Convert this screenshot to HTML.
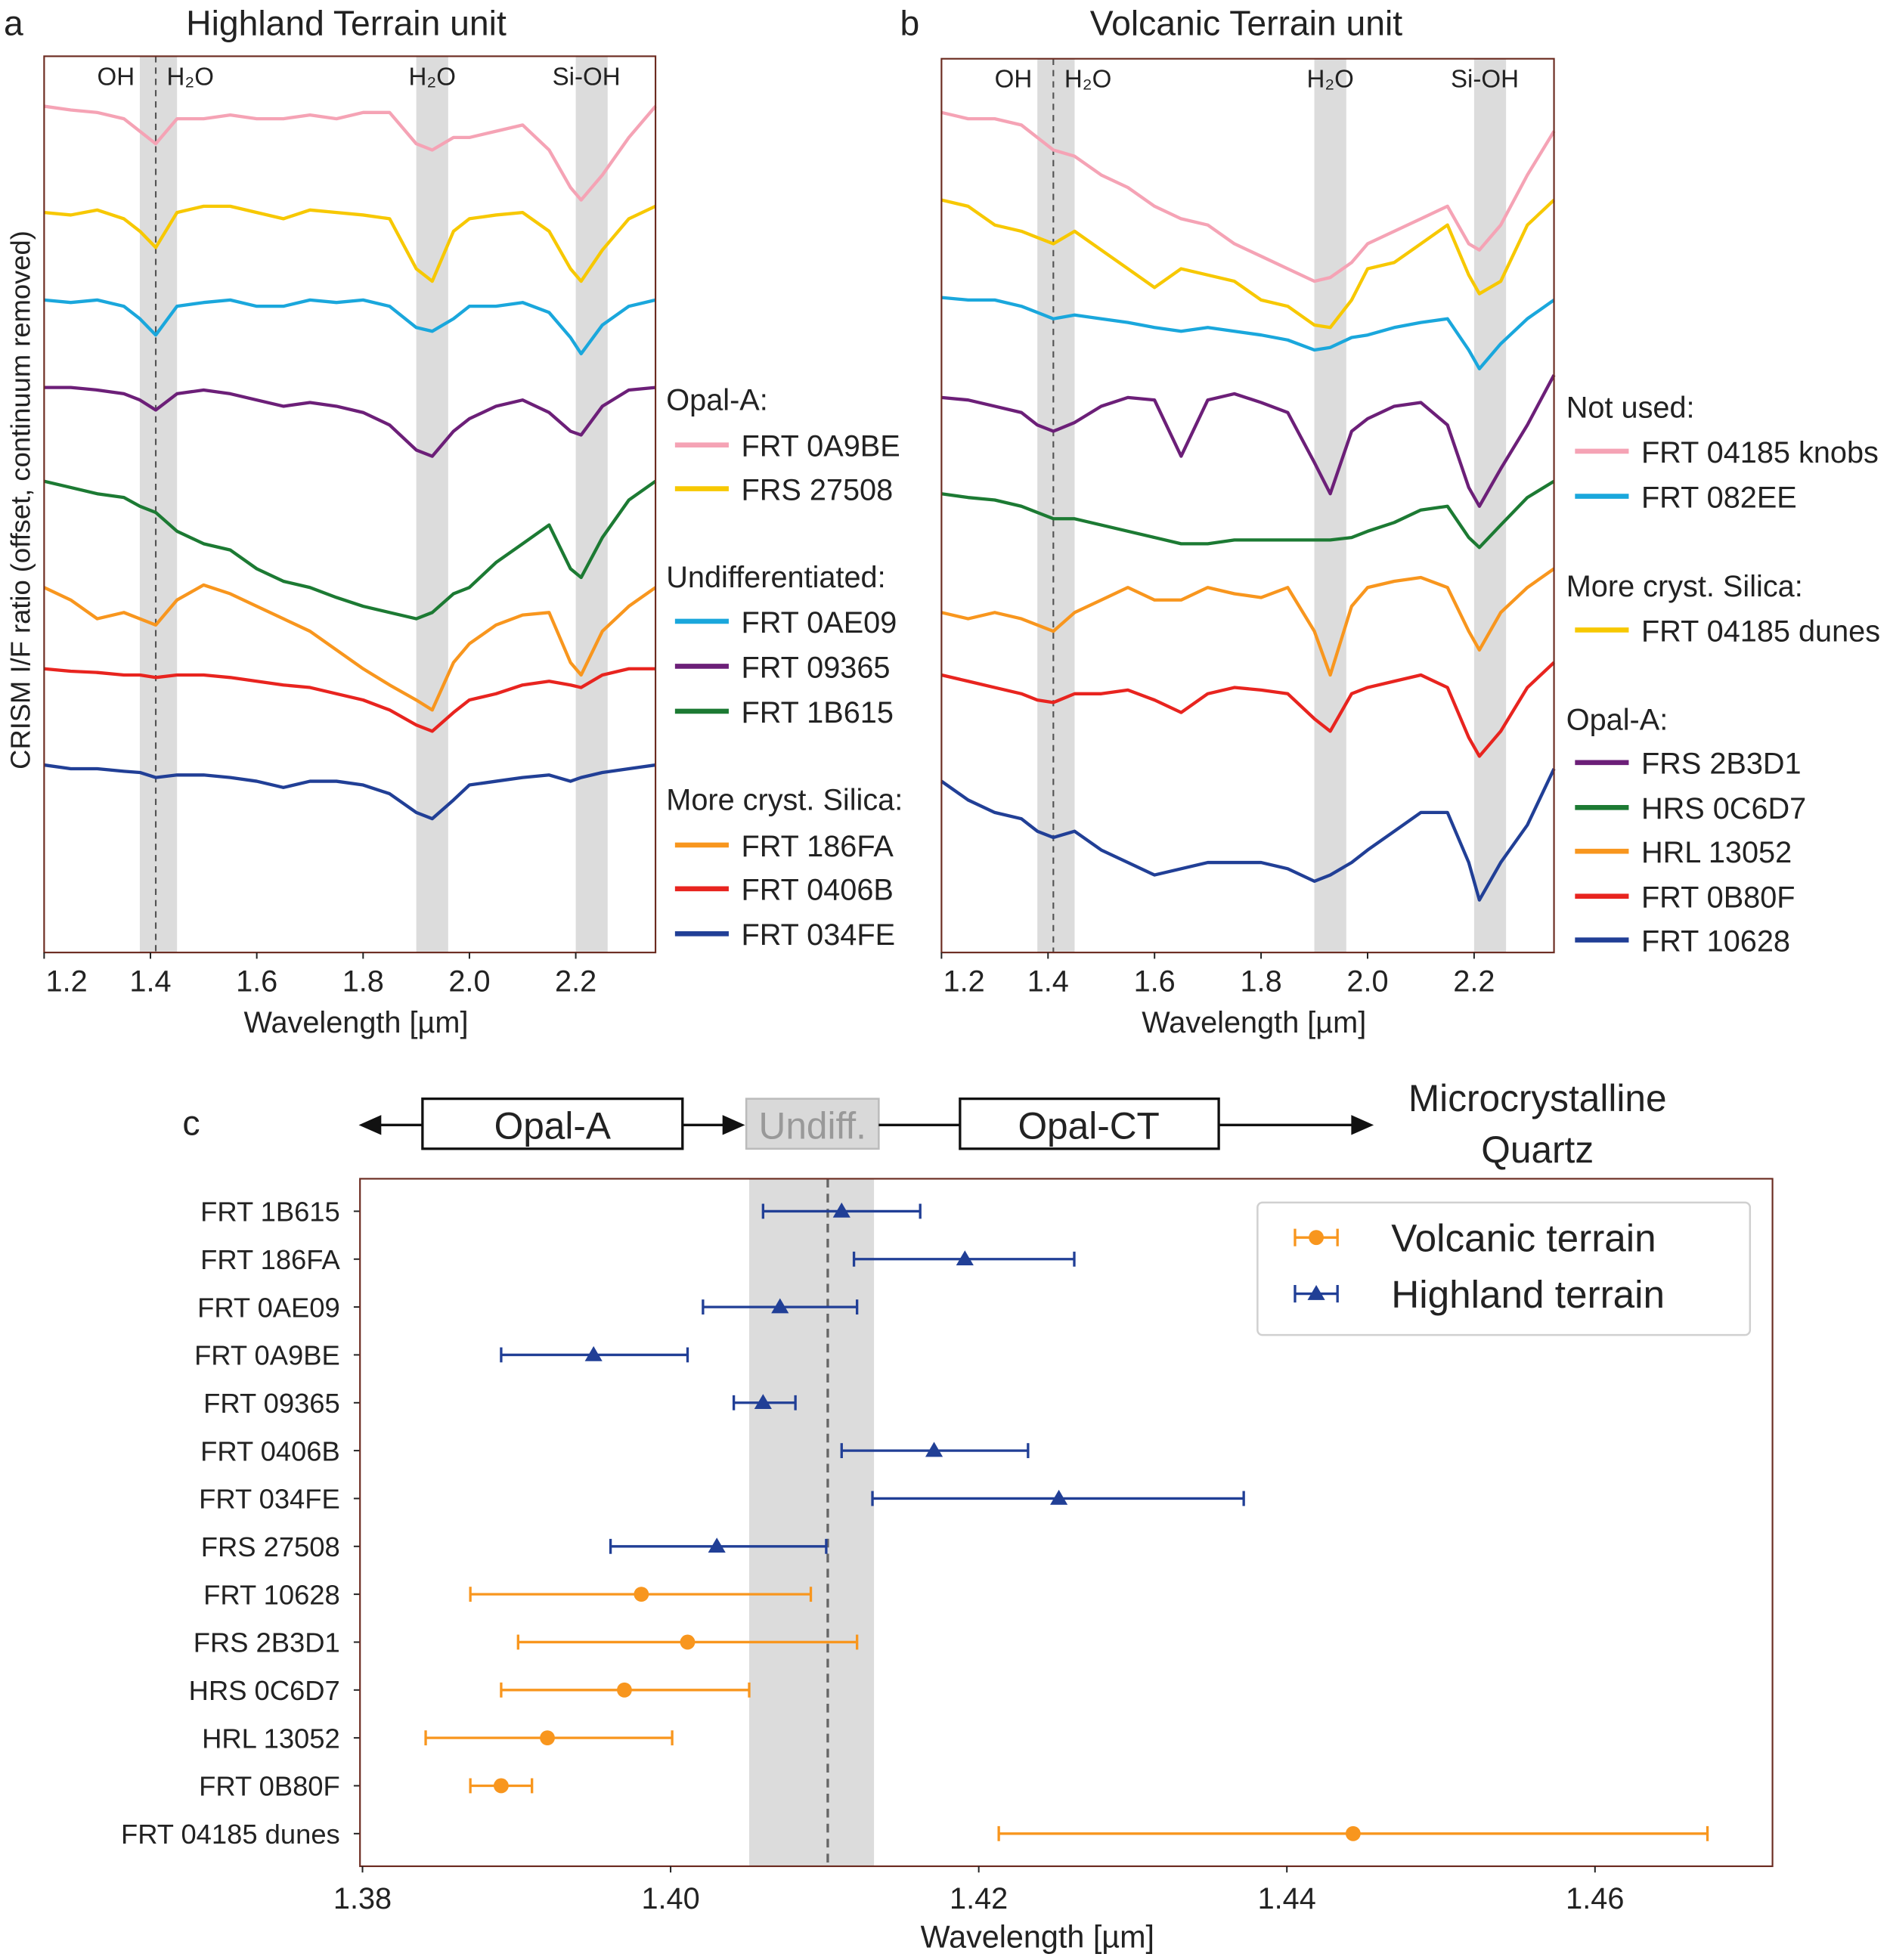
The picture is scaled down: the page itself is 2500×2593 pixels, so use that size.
<!DOCTYPE html>
<html><head><meta charset="utf-8">
<style>
html,body{margin:0;padding:0;background:#fff;}
svg{display:block;}
text{font-family:"Liberation Sans",sans-serif;fill:#222;}
</style></head>
<body>
<svg id="fig" width="2500" height="2593" viewBox="0 0 1512 1568" preserveAspectRatio="none">
<g id="pa"></g>
<g id="pb"></g>
<g id="pc"></g>
</svg>
<script>
// ---------- spectra data (panels a, b) ----------
const wavelengths = [1.20,1.25,1.30,1.35,1.38,1.41,1.45,1.50,1.55,1.60,1.65,1.70,1.75,1.80,1.85,1.90,1.93,1.97,2.00,2.05,2.10,2.15,2.19,2.21,2.25,2.30,2.35];
const pinkA   = [67.7,67.4,67.2,66.7,65.7,64.7,66.7,66.7,67.0,66.7,66.7,67.0,66.7,67.2,67.2,64.7,64.2,65.2,65.2,65.7,66.2,64.2,61.2,60.2,62.2,65.2,67.7];
const yellowA = [59.2,59.0,59.4,58.7,57.7,56.4,59.2,59.7,59.7,59.2,58.7,59.4,59.2,59.0,58.7,54.7,53.7,57.7,58.7,59.0,59.2,57.7,54.7,53.7,56.2,58.7,59.7];
const cyanA   = [52.2,52.0,52.2,51.7,50.7,49.4,51.7,52.0,52.2,51.7,51.7,52.2,52.0,52.2,51.7,50.0,49.7,50.7,51.7,51.7,52.0,51.2,49.2,47.9,50.2,51.7,52.2];
const purpleA = [45.2,45.2,45.0,44.7,44.2,43.4,44.7,45.0,44.7,44.2,43.7,44.0,43.7,43.2,42.2,40.2,39.7,41.7,42.7,43.7,44.2,43.2,41.7,41.4,43.7,45.0,45.2];
const greenA  = [37.7,37.2,36.7,36.4,35.7,35.2,33.7,32.7,32.2,30.7,29.7,29.2,28.4,27.7,27.2,26.7,27.2,28.7,29.2,31.2,32.7,34.2,30.7,30.0,33.2,36.2,37.7];
const orangeA = [29.2,28.2,26.7,27.2,26.7,26.2,28.2,29.4,28.7,27.7,26.7,25.7,24.2,22.7,21.4,20.2,19.4,23.2,24.7,26.2,27.0,27.2,23.2,22.2,25.7,27.7,29.2];
const redA    = [22.7,22.5,22.4,22.2,22.2,22.0,22.2,22.2,22.0,21.7,21.4,21.2,20.7,20.2,19.4,18.2,17.7,19.2,20.2,20.7,21.4,21.7,21.4,21.2,22.2,22.7,22.7];
const blueA   = [15.0,14.7,14.7,14.5,14.4,14.0,14.2,14.2,14.0,13.7,13.2,13.7,13.7,13.4,12.7,11.2,10.7,12.2,13.4,13.7,14.0,14.2,13.7,14.0,14.4,14.7,15.0];
const pinkB   = [67.2,66.7,66.7,66.2,65.2,64.2,63.7,62.2,61.2,59.7,58.7,58.2,56.7,55.7,54.7,53.7,54.0,55.2,56.7,57.7,58.7,59.7,56.7,56.2,58.2,62.2,65.7];
const yellowB = [60.2,59.7,58.2,57.7,57.2,56.7,57.7,56.2,54.7,53.2,54.7,54.2,53.7,52.2,51.7,50.2,50.0,52.2,54.7,55.2,56.7,58.2,54.2,52.7,53.7,58.2,60.2];
const cyanB   = [52.4,52.2,52.2,51.7,51.2,50.7,51.0,50.7,50.4,50.0,49.7,50.0,49.7,49.4,49.0,48.2,48.4,49.2,49.4,50.0,50.4,50.7,48.2,46.7,48.7,50.7,52.2];
const purpleB = [44.4,44.2,43.7,43.2,42.2,41.7,42.4,43.7,44.4,44.2,39.7,44.2,44.7,44.0,43.2,39.2,36.7,41.7,42.7,43.7,44.0,42.2,37.2,35.7,38.7,42.2,46.2];
const greenB  = [36.7,36.4,36.2,35.7,35.2,34.7,34.7,34.2,33.7,33.2,32.7,32.7,33.0,33.0,33.0,33.0,33.0,33.2,33.7,34.4,35.4,35.7,33.2,32.4,34.2,36.4,37.7];
const orangeB = [27.2,26.7,27.2,26.7,26.2,25.7,27.2,28.2,29.2,28.2,28.2,29.2,28.7,28.4,29.2,25.7,22.2,27.7,29.2,29.7,30.0,29.2,25.7,24.2,27.2,29.2,30.7];
const redB    = [22.2,21.7,21.2,20.7,20.2,20.0,20.7,20.7,21.0,20.2,19.2,20.7,21.2,21.0,20.7,18.7,17.7,20.7,21.2,21.7,22.2,21.2,17.2,15.7,17.7,21.2,23.2];
const blueB   = [13.7,12.2,11.2,10.7,9.7,9.2,9.7,8.2,7.2,6.2,6.7,7.2,7.2,7.2,6.7,5.7,6.2,7.2,8.2,9.7,11.2,11.2,7.2,4.2,7.2,10.2,14.7];
const specTicks = [1.2,1.4,1.6,1.8,2.0,2.2];
const bands = [[1.38,1.45],[1.90,1.96],[2.20,2.26]];

// ---------- panel c data ----------
const cNames  = ["FRT 1B615","FRT 186FA","FRT 0AE09","FRT 0A9BE","FRT 09365","FRT 0406B","FRT 034FE","FRS 27508","FRT 10628","FRS 2B3D1","HRS 0C6D7","HRL 13052","FRT 0B80F","FRT 04185 dunes"];
const cCenter = [1.4111,1.4191,1.4071,1.3950,1.4060,1.4171,1.4252,1.4030,1.3981,1.4011,1.3970,1.3920,1.3890,1.4443];
const cLow    = [1.4060,1.4119,1.4021,1.3890,1.4041,1.4111,1.4131,1.3961,1.3870,1.3901,1.3890,1.3841,1.3870,1.4213];
const cHigh   = [1.4162,1.4262,1.4121,1.4011,1.4081,1.4232,1.4372,1.4101,1.4091,1.4121,1.4051,1.4001,1.3910,1.4673];
const cTerrain= ["H","H","H","H","H","H","H","H","V","V","V","V","V","V"];
const cTicks  = [1.38,1.40,1.42,1.44,1.46];

const NS="http://www.w3.org/2000/svg";
function mk(tag,attrs,parent,txt){const e=document.createElementNS(NS,tag);for(const k in attrs)e.setAttribute(k,attrs[k]);if(txt!==undefined)e.textContent=txt;parent.appendChild(e);return e;}
const AX="#6b2b20";

function spectraPanel(g,x0,x1,y0,y1,series,opts){
  const xs=w=>x0+(w-1.2)*(x1-x0)/1.15;
  const ys=v=>762-v*10;
  bands.forEach((b,i)=>{
    const r=mk('rect',{x:xs(b[0]),y:y0,width:xs(b[1])-xs(b[0]),height:y1-y0,fill:"#dcdcdc"},g);
    
    
  });
  const dl=mk('line',{x1:xs(1.41),x2:xs(1.41),y1:y0,y2:y1,stroke:"#555","stroke-width":1.3,"stroke-dasharray":"5,4"},g);
  
  
  series.forEach(s=>{
    const pts=wavelengths.map((w,i)=>xs(w).toFixed(1)+","+ys(s.v[i]).toFixed(1)).join(" ");
    const p=mk('polyline',{points:pts,fill:"none",stroke:s.c,"stroke-width":2.6,"stroke-linejoin":"round"},g);
    
    
  });
  const fr=mk('rect',{x:x0,y:y0,width:x1-x0,height:y1-y0,fill:"none",stroke:AX,"stroke-width":1.3},g);
  
  
  const lbl=[["OH",1.335],["H₂O",1.475],["H₂O",1.93],["Si-OH",2.22]];
  lbl.forEach(l=>{
    const t=mk('text',{x:xs(l[1]),y:y0+23,"font-size":20,"text-anchor":"middle"},g,l[0]);
    
    
  });
  specTicks.forEach(tv=>{
    mk('line',{x1:xs(tv),x2:xs(tv),y1:y1,y2:y1+5,stroke:"#222","stroke-width":1.2},g);
    const t=mk('text',{x:xs(tv)+(tv===1.2?18:0),y:y1+31,"font-size":24,"text-anchor":"middle"},g,tv.toFixed(1));
    
    
  });
  const xt=mk('text',{x:(x0+x1)/2+5,y:y1+64,"font-size":24,"text-anchor":"middle"},g,"Wavelength [µm]");
  
  
  const lg=opts.legend;
  lg.forEach(e=>{
    if(e.h){const t=mk('text',{x:opts.lx-7,y:e.y+9,"font-size":24},g,e.h);
      
      }
    else{
      const l=mk('line',{x1:opts.lx,x2:opts.lx+43,y1:e.y,y2:e.y,stroke:e.c,"stroke-width":4},g);
      
      
      const t=mk('text',{x:opts.lx+53,y:e.y+9,"font-size":24},g,e.t);
      
      
    }
  });
}

const C={pink:"#f5a3b5",yellow:"#f7c800",cyan:"#1aa7dc",purple:"#6c1f78",green:"#1c7a33",orange:"#f8961e",red:"#e8241f",blue:"#213f96"};

const pa=document.getElementById('pa');
mk('text',{x:3,y:28,"font-size":28},pa,"a");
mk('text',{x:277,y:28,"font-size":28,"text-anchor":"middle"},pa,"Highland Terrain unit");
const ylab=mk('text',{x:0,y:0,"font-size":22,"text-anchor":"middle",transform:"translate(24,400) rotate(-90)"},pa,"CRISM I/F ratio (offset, continuum removed)");


spectraPanel(pa,35.3,524.4,45,762,[
 {n:"frt-0a9be",c:C.pink,v:pinkA},{n:"frs-27508",c:C.yellow,v:yellowA},{n:"frt-0ae09",c:C.cyan,v:cyanA},
 {n:"frt-09365",c:C.purple,v:purpleA},{n:"frt-1b615",c:C.green,v:greenA},{n:"frt-186fa",c:C.orange,v:orangeA},
 {n:"frt-0406b",c:C.red,v:redA},{n:"frt-034fe",c:C.blue,v:blueA}],
 {lx:540,legend:[{h:"Opal-A:",y:319},{t:"FRT 0A9BE",c:C.pink,y:356},{t:"FRS 27508",c:C.yellow,y:391},
 {h:"Undifferentiated:",y:461},{t:"FRT 0AE09",c:C.cyan,y:497},{t:"FRT 09365",c:C.purple,y:533},{t:"FRT 1B615",c:C.green,y:569},
 {h:"More cryst. Silica:",y:639},{t:"FRT 186FA",c:C.orange,y:676},{t:"FRT 0406B",c:C.red,y:711},{t:"FRT 034FE",c:C.blue,y:747}]});

const pb=document.getElementById('pb');
mk('text',{x:720,y:28,"font-size":28},pb,"b");
mk('text',{x:997,y:28,"font-size":28,"text-anchor":"middle"},pb,"Volcanic Terrain unit");
spectraPanel(pb,753.2,1243.2,47,762,[
 {n:"frt-04185-knobs",c:C.pink,v:pinkB},{n:"frt-04185-dunes",c:C.yellow,v:yellowB},{n:"frt-082ee",c:C.cyan,v:cyanB},
 {n:"frs-2b3d1",c:C.purple,v:purpleB},{n:"hrs-0c6d7",c:C.green,v:greenB},{n:"hrl-13052",c:C.orange,v:orangeB},
 {n:"frt-0b80f",c:C.red,v:redB},{n:"frt-10628",c:C.blue,v:blueB}],
 {lx:1260,legend:[{h:"Not used:",y:325},{t:"FRT 04185 knobs",c:C.pink,y:361},{t:"FRT 082EE",c:C.cyan,y:397},
 {h:"More cryst. Silica:",y:468},{t:"FRT 04185 dunes",c:C.yellow,y:504},
 {h:"Opal-A:",y:575},{t:"FRS 2B3D1",c:C.purple,y:610},{t:"HRS 0C6D7",c:C.green,y:646},{t:"HRL 13052",c:C.orange,y:681},{t:"FRT 0B80F",c:C.red,y:717},{t:"FRT 10628",c:C.blue,y:752}]});

// ---------- panel c ----------
const pc=document.getElementById('pc');
const cx0=288,cx1=1418,cy0=943,cy1=1493;
const cxs=w=>290+(w-1.38)*12325;
const cys=i=>969+i*38.3;
mk('text',{x:146,y:908,"font-size":28},pc,"c");
// header scale
const hdr=mk('g',{},pc);


mk('line',{x1:296,x2:338,y1:900,y2:900,stroke:"#111","stroke-width":2},hdr);
mk('polygon',{points:"287,900 305,892 305,908",fill:"#111"},hdr);
mk('rect',{x:338,y:879,width:208,height:40,fill:"#fff",stroke:"#111","stroke-width":2},hdr);
mk('text',{x:442,y:911,"font-size":30,"text-anchor":"middle"},hdr,"Opal-A");
mk('line',{x1:546,x2:585,y1:900,y2:900,stroke:"#111","stroke-width":2},hdr);
mk('polygon',{points:"596,900 578,892 578,908",fill:"#111"},hdr);
mk('rect',{x:597,y:879,width:106,height:40,fill:"#d9d9d9",stroke:"#bbb","stroke-width":1.5},hdr);
mk('text',{x:650,y:911,"font-size":30,"text-anchor":"middle",style:"fill:#999"},hdr,"Undiff.");
mk('line',{x1:703,x2:768,y1:900,y2:900,stroke:"#111","stroke-width":2},hdr);
mk('rect',{x:768,y:879,width:207,height:40,fill:"#fff",stroke:"#111","stroke-width":2},hdr);
mk('text',{x:871,y:911,"font-size":30,"text-anchor":"middle"},hdr,"Opal-CT");
mk('line',{x1:975,x2:1088,y1:900,y2:900,stroke:"#111","stroke-width":2},hdr);
mk('polygon',{points:"1099,900 1081,892 1081,908",fill:"#111"},hdr);
mk('text',{x:1230,y:889,"font-size":30,"text-anchor":"middle"},hdr,"Microcrystalline");
mk('text',{x:1230,y:930,"font-size":30,"text-anchor":"middle"},hdr,"Quartz");

const band=mk('rect',{x:cxs(1.4051),y:cy0,width:cxs(1.4132)-cxs(1.4051),height:cy1-cy0,fill:"#dcdcdc"},pc);


const dl=mk('line',{x1:cxs(1.4102),x2:cxs(1.4102),y1:cy0,y2:cy1,stroke:"#666","stroke-width":2,"stroke-dasharray":"7,5"},pc);



function marker(g,x,y,t,col){
  if(t==="H") mk('polygon',{points:`${x},${y-7} ${x-7},${y+5} ${x+7},${y+5}`,fill:col},g);
  else mk('circle',{cx:x,cy:y,r:6,fill:col},g);
}
cNames.forEach((n,i)=>{
  const col=cTerrain[i]==="H"?C.blue:C.orange;
  const y=cys(i);
  const g=mk('g',{},pc);
  
  
  mk('line',{x1:cxs(cLow[i]),x2:cxs(cHigh[i]),y1:y,y2:y,stroke:col,"stroke-width":2},g);
  mk('line',{x1:cxs(cLow[i]),x2:cxs(cLow[i]),y1:y-6,y2:y+6,stroke:col,"stroke-width":2},g);
  mk('line',{x1:cxs(cHigh[i]),x2:cxs(cHigh[i]),y1:y-6,y2:y+6,stroke:col,"stroke-width":2},g);
  marker(g,cxs(cCenter[i]),y,cTerrain[i],col);
  const t=mk('text',{x:272,y:y+8,"font-size":22,"text-anchor":"end"},pc,n);
  
  
  mk('line',{x1:cx0-5,x2:cx0,y1:y,y2:y,stroke:"#222","stroke-width":1.2},pc);
});
const cf=mk('rect',{x:cx0,y:cy0,width:cx1-cx0,height:cy1-cy0,fill:"none",stroke:AX,"stroke-width":1.3},pc);


cTicks.forEach(tv=>{
  mk('line',{x1:cxs(tv),x2:cxs(tv),y1:cy1,y2:cy1+5,stroke:"#222","stroke-width":1.2},pc);
  const t=mk('text',{x:cxs(tv),y:1527,"font-size":24,"text-anchor":"middle"},pc,tv.toFixed(2));
  
  
});
const cxt=mk('text',{x:830,y:1558,"font-size":25,"text-anchor":"middle"},pc,"Wavelength [µm]");


// legend
const lg=mk('g',{},pc);


mk('rect',{x:1006,y:962,width:394,height:106,rx:4,fill:"#fff",stroke:"#d0d0d0","stroke-width":1.5},lg);
[["V",C.orange,990,"Volcanic terrain"],["H",C.blue,1035,"Highland terrain"]].forEach(e=>{
  mk('line',{x1:1036,x2:1070,y1:e[2],y2:e[2],stroke:e[1],"stroke-width":2},lg);
  mk('line',{x1:1036,x2:1036,y1:e[2]-7,y2:e[2]+7,stroke:e[1],"stroke-width":2},lg);
  mk('line',{x1:1070,x2:1070,y1:e[2]-7,y2:e[2]+7,stroke:e[1],"stroke-width":2},lg);
  marker(lg,1053,e[2],e[0],e[1]);
  const t=mk('text',{x:1113,y:e[2]+11,"font-size":31},lg,e[3]);
  
  
});
</script>
</body></html>
